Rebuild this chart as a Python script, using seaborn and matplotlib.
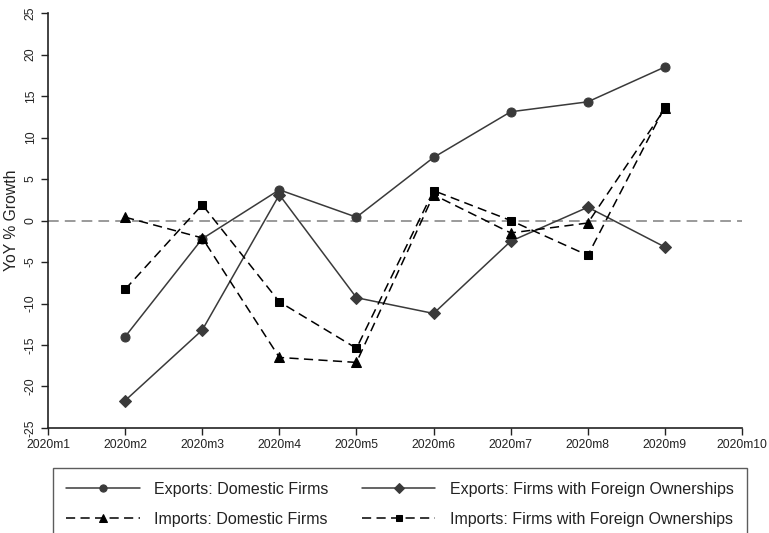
import matplotlib
matplotlib.use("Agg")
import matplotlib.pyplot as plt
import seaborn as sns
import pandas as pd
import numpy as np

months = [2, 3, 4, 5, 6, 7, 8, 9]
tick_labels = ["2020m1", "2020m2", "2020m3", "2020m4", "2020m5",
               "2020m6", "2020m7", "2020m8", "2020m9", "2020m10"]

exports_domestic = [-14.0, -2.2, 3.7, 0.4, 7.6, 13.1, 14.3, 18.5]
exports_foreign = [-21.7, -13.2, 3.1, -9.3, -11.2, -2.5, 1.6, -3.2]
imports_domestic = [0.4, -2.1, -16.5, -17.1, 3.1, -1.5, -0.3, 13.5]
imports_foreign = [-8.3, 1.9, -9.8, -15.4, 3.6, 0.0, -4.2, 13.7]

series_names = ["Exports: Domestic Firms",
                "Exports: Firms with Foreign Ownerships",
                "Imports: Domestic Firms",
                "Imports: Firms with Foreign Ownerships"]
series_values = [exports_domestic, exports_foreign, imports_domestic, imports_foreign]

df = pd.DataFrame({
    "month": months * 4,
    "value": sum(series_values, []),
    "series": np.repeat(series_names, len(months)),
})

sns.set_theme(style="white")
plt.rcParams["font.family"] = ["Liberation Sans", "DejaVu Sans"]

fig = plt.figure(figsize=(7.69, 5.33), dpi=100)
ax = fig.add_axes([0.0624, 0.197, 0.9026, 0.7786])

ax.axhline(0, color="#7f7f7f", lw=1.1, ls=(0, (7, 4)), zorder=1)

styles = {
    series_names[0]: dict(color="#3a3a3a", marker="o", ls="-", ms=6.5),
    series_names[1]: dict(color="#3a3a3a", marker="D", ls="-", ms=6),
    series_names[2]: dict(color="#000000", marker="^", ls=(0, (6, 3.5)), ms=6.5),
    series_names[3]: dict(color="#000000", marker="s", ls=(0, (6, 3.5)), ms=6),
}

for name in series_names:
    st = styles[name]
    sub = df[df["series"] == name]
    sns.lineplot(data=sub, x="month", y="value", ax=ax, color=st["color"],
                 marker=st["marker"], markersize=st["ms"], linestyle=st["ls"],
                 lw=1.1, markeredgecolor=st["color"], markerfacecolor=st["color"],
                 label=name, zorder=3)

ax.set_xlim(1, 10)
ax.set_ylim(-25, 25)
ax.set_xticks(range(1, 11))
ax.set_xticklabels(tick_labels, fontsize=8.7, color="#222222")
ax.set_yticks(range(-25, 26, 5))
ax.set_yticklabels([str(v) for v in range(-25, 26, 5)], fontsize=8.7,
                   rotation=90, va="center", color="#222222")
ax.set_xlabel("")
ax.set_ylabel("YoY % Growth", fontsize=11.3, color="#222222", labelpad=4)

for side in ["top", "right"]:
    ax.spines[side].set_visible(False)
for side in ["left", "bottom"]:
    ax.spines[side].set_color("#222222")
    ax.spines[side].set_linewidth(1.2)
ax.tick_params(axis="both", direction="out", length=5, width=1.0,
               color="#222222", left=True, bottom=True, pad=3)

handles, labels = ax.get_legend_handles_labels()
ax.get_legend().remove()
order = [0, 2, 1, 3]
leg = fig.legend([handles[i] for i in order], [labels[i] for i in order],
                 ncol=2, loc="upper center",
                 bbox_to_anchor=(0.520, 0.137),
                 fontsize=11.5, handlelength=4.6, frameon=True, fancybox=False,
                 borderpad=0.85, labelspacing=0.95, columnspacing=2.1,
                 handletextpad=0.9, markerscale=0.8)
leg.get_frame().set_edgecolor("#333333")
leg.get_frame().set_linewidth(1.0)
for t in leg.get_texts():
    t.set_color("#222222")

fig.savefig("out.png", dpi=100)
